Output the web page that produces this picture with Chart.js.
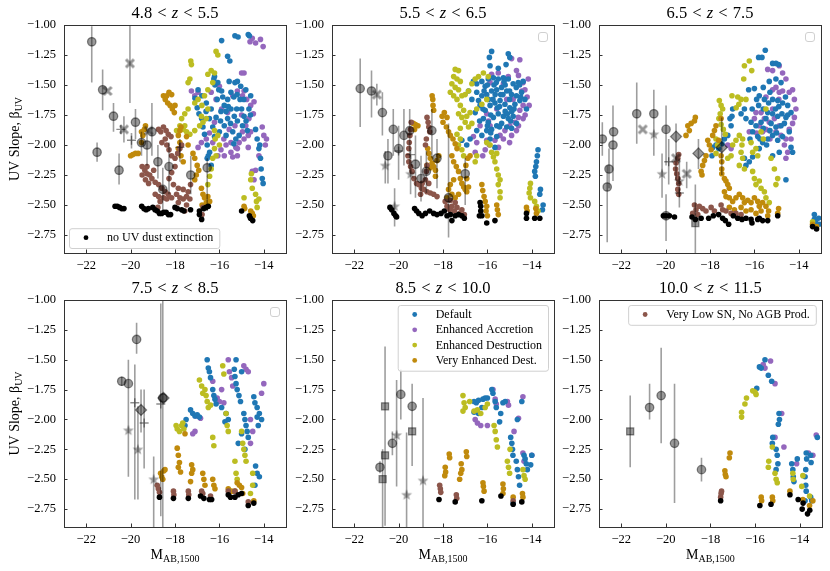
<!DOCTYPE html>
<html><head><meta charset="utf-8">
<script src="https://cdn.jsdelivr.net/npm/chart.js@4.4.1/dist/chart.umd.min.js"></script>
<style>
html,body{margin:0;padding:0;background:#fff;width:830px;height:571px;overflow:hidden;position:relative}
canvas{position:absolute}
</style></head><body>
<canvas id="c1" width="293" height="300" style="left:0px;top:0px;width:293px;height:300px"></canvas>
<canvas id="c2" width="293" height="300" style="left:268px;top:0px;width:293px;height:300px"></canvas>
<canvas id="c3" width="293" height="300" style="left:535px;top:0px;width:293px;height:300px"></canvas>
<canvas id="c4" width="293" height="298" style="left:0px;top:275px;width:293px;height:298px"></canvas>
<canvas id="c5" width="293" height="298" style="left:268px;top:275px;width:293px;height:298px"></canvas>
<canvas id="c6" width="293" height="298" style="left:535px;top:275px;width:293px;height:298px"></canvas>
<script>
// ---------- axes ----------
const xTicks = [-22, -20, -18, -16, -14];
const yTicks = [-1.00, -1.25, -1.50, -1.75, -2.00, -2.25, -2.50, -2.75];
const xRange = [-23, -13];
const yRange = [-2.9, -1.0];
const panelTitles = [["4.8", "5.5"], ["5.5", "6.5"], ["6.5", "7.5"], ["7.5", "8.5"], ["8.5", "10.0"], ["10.0", "11.5"]];
const seriesNames = ["Default", "Enhanced Accretion", "Enhanced Destruction", "Very Enhanced Dest.", "Very Low SN, No AGB Prod.", "no UV dust extinction"];
const seriesColors = ["#1f77b4", "#9467bd", "#bcbd22", "#c08a0c", "#8c564b", "#000000"];

// ---------- panel 1 : 4.8 < z < 5.5 ----------
const z1_default = [-15.9,-1.13, -15.63,-1.26, -15.53,-1.3, -15.3,-1.09, -15.16,-1.1, -14.7,-1.08, -14.65,-1.09, -16.22,-1.43, -16.2,-1.5,
 -17.1,-1.61, -17.0,-1.69, -16.92,-1.74, -16.8,-1.78, -16.74,-1.85, -16.67,-1.91, -16.55,-2.0, -16.5,-2.09, -16.37,-2.17, -16.44,-2.06,
 -16.25,-1.45, -16.07,-1.48, -16.03,-1.54, -15.85,-1.6, -15.78,-1.67, -15.63,-1.62, -15.48,-1.56, -15.3,-1.48, -15.19,-1.47, -15.04,-1.51, -14.81,-1.54, -14.59,-1.59,
 -15.48,-1.7, -15.33,-1.76, -15.19,-1.8, -14.96,-1.84, -14.74,-1.88, -15.63,-1.78, -15.78,-1.84, -16.0,-1.89, -16.22,-1.93, -16.15,-1.77, -16.37,-1.7, -16.59,-1.65, -16.79,-1.59, -16.96,-1.54,
 -15.4,-1.89, -15.26,-1.95, -15.11,-1.92, -14.89,-1.76, -14.67,-1.7, -15.7,-1.92, -15.93,-1.72, -15.56,-1.47, -15.07,-1.62, -15.22,-1.7,
 -15.9,-1.55, -15.7,-1.72, -15.0,-1.7, -14.9,-1.62, -15.5,-1.82, -16.1,-1.62, -15.35,-1.6, -14.8,-1.8, -16.3,-1.85, -16.45,-1.78,
 -15.2,-1.58, -15.6,-1.68, -15.95,-1.8, -16.6,-1.72, -14.6,-1.75, -15.35,-1.99,
 -14.37,-1.87, -14.3,-1.95, -14.22,-2.03, -14.15,-2.11, -14.12,-2.2, -14.07,-2.28, -14.03,-2.32, -14.18,-2.0, -16.55,-2.11];
const z1_accretion = [-14.62,-1.14, -14.52,-1.11, -14.37,-1.15, -14.15,-1.12, -14.03,-1.18, -14.89,-1.4, -15.0,-1.4,
 -17.26,-1.55, -17.11,-1.59, -16.96,-1.56, -16.37,-1.56, -16.15,-1.62, -15.9,-1.7, -15.63,-1.73, -15.4,-1.59, -15.19,-1.55, -14.96,-1.59, -14.77,-1.62, -14.59,-1.67, -14.47,-1.74,
 -14.67,-1.78, -14.81,-1.84, -14.96,-1.89, -15.11,-1.98, -15.26,-2.02, -15.48,-1.98, -15.7,-2.0, -15.93,-2.04, -16.07,-2.09, -16.3,-1.98, -16.59,-1.95, -16.81,-1.98, -16.96,-2.02,
 -15.78,-2.09, -15.48,-2.06, -15.19,-2.03, -14.89,-1.95, -14.59,-1.89, -15.3,-1.84, -15.56,-1.87, -16.22,-1.81, -16.0,-1.51, -14.7,-1.92, -14.89,-1.55, -14.44,-1.64, -15.19,-2.09,
 -15.0,-1.75, -15.8,-1.95, -16.45,-1.9, -14.7,-2.02, -15.4,-2.1,
 -14.07,-1.85, -14.0,-1.92, -13.93,-2.0, -13.88,-1.95, -14.22,-2.09, -14.37,-2.21, -14.44,-2.29, -14.52,-2.22];
const z1_destruction = [-17.29,-1.3, -17.26,-1.33, -17.33,-1.45, -17.41,-1.48, -16.15,-1.22, -16.07,-1.25, -16.52,-1.41, -16.37,-1.38, -16.22,-1.4, -16.3,-1.48, -16.52,-1.54, -16.67,-1.59, -16.79,-1.67,
 -16.96,-1.62, -17.11,-1.65, -17.41,-1.7, -17.56,-1.74, -17.7,-1.78, -17.78,-1.84, -17.63,-1.87, -17.48,-1.89, -17.33,-1.91, -17.11,-1.88, -16.89,-1.84, -16.74,-1.81, -16.59,-1.78, -17.56,-1.84, -17.93,-1.88,
 -16.22,-1.88, -16.19,-1.95, -16.22,-2.03, -16.3,-2.11, -16.37,-2.2, -16.44,-2.26, -16.52,-2.33, -16.07,-1.92, -16.0,-2.0, -16.15,-2.09,
 -14.56,-2.24, -14.59,-2.29, -14.52,-2.36, -14.37,-2.41, -14.33,-2.47, -14.3,-2.52, -14.22,-2.45, -14.89,-2.44, -16.81,-1.76, -16.52,-1.7];
const z1_veryDest = [-20.0,-2.09, -19.9,-2.08, -19.78,-2.07, -19.66,-2.07, -19.51,-1.89, -19.45,-1.92, -19.38,-1.87, -19.33,-1.84, -19.51,-1.98,
 -18.52,-1.59, -18.44,-1.62, -18.37,-1.59, -18.27,-1.56, -18.15,-1.58, -18.33,-1.65, -18.22,-1.67, -18.12,-1.7, -18.03,-1.73, -18.0,-1.67,
 -17.73,-1.85, -17.78,-1.88, -17.85,-1.92, -17.78,-1.98, -17.85,-2.03, -17.73,-2.09, -17.63,-2.14,
 -17.48,-1.93, -17.41,-2.0, -17.19,-2.07, -17.11,-2.11, -17.0,-2.17, -16.93,-2.21, -17.04,-2.25, -17.11,-2.29,
 -16.81,-2.36, -16.74,-2.41, -16.67,-2.44, -16.52,-2.43, -16.44,-2.47, -16.59,-2.48, -16.78,-2.5,
 -14.89,-2.51, -14.86,-2.53, -14.59,-2.55, -14.52,-2.57, -14.47,-2.59];
const z1_lowSN = [-18.74,-1.87, -18.64,-1.89, -18.52,-1.85, -18.4,-1.88, -18.3,-1.91, -18.18,-1.93, -18.44,-1.95, -18.59,-1.98, -18.37,-2.0, -18.27,-2.04, -18.15,-2.09, -18.0,-2.11, -17.88,-2.07, -17.78,-2.03, -17.7,-2.0,
 -19.48,-2.18, -19.36,-2.21, -19.26,-2.24, -19.14,-2.25, -19.04,-2.28, -19.33,-2.29, -19.19,-2.32, -19.48,-2.25, -19.26,-2.18, -18.96,-2.21, -18.89,-2.31, -18.74,-2.33, -18.59,-2.36, -18.44,-2.39, -18.3,-2.41,
 -18.52,-2.44, -18.67,-2.47, -18.37,-2.45, -18.15,-2.44, -17.93,-2.41, -17.78,-2.44, -17.63,-2.45, -17.48,-2.43, -17.33,-2.45, -17.41,-2.39, -17.63,-2.37, -17.85,-2.36, -18.07,-2.33, -18.27,-2.28, -18.15,-2.23, -18.0,-2.18,
 -17.3,-2.33, -18.89,-2.41, -18.74,-2.43, -17.85,-2.48, -17.48,-2.5, -18.77,-2.52, -17.56,-2.55, -16.74,-2.52, -16.78,-2.58];
const z1_noDust = [-20.7,-2.51, -20.6,-2.51, -20.5,-2.52, -20.4,-2.53, -20.3,-2.53, -19.5,-2.51, -19.4,-2.53, -19.3,-2.54, -19.2,-2.53, -19.0,-2.52, -18.9,-2.54, -18.8,-2.55,
 -18.7,-2.57, -18.6,-2.57, -18.5,-2.56, -18.4,-2.56, -18.3,-2.58, -18.2,-2.58, -18.0,-2.52, -17.9,-2.53, -17.7,-2.54, -17.6,-2.55, -17.3,-2.54,
 -16.9,-2.55, -16.9,-2.58, -16.8,-2.62, -16.7,-2.53, -16.6,-2.52, -16.5,-2.51, -15.0,-2.55, -14.65,-2.59, -14.6,-2.61, -14.5,-2.63];
// observations: x, y, err low, err high, marker
const z1_obs = [[-21.75,-1.14,-1.01,-1.48,'c'], [-21.51,-2.06,-1.98,-2.14,'c'], [-21.26,-1.54,-1.37,-1.71,'c'], [-21.04,-1.55,null,null,'x'],
 [-20.77,-1.76,-1.65,-1.89,'c'], [-20.52,-2.21,-2.07,-2.33,'c'], [-20.3,-1.87,-1.76,-1.98,'x'], [-20.44,-1.87,null,null,'p'], [-19.96,-1.96,-1.9,-2.03,'p'],
 [-20.03,-1.32,-1.0,-1.65,'x'], [-19.78,-1.81,-1.7,-1.95,'c'], [-19.51,-1.98,-1.89,-2.09,'c'], [-19.26,-2.0,-1.87,-2.17,'c'], [-19.19,-1.88,null,null,'x'],
 [-19.04,-1.89,-1.65,-2.09,'c'], [-18.77,-2.14,-2.0,-2.28,'c'], [-18.55,-2.37,-2.19,-2.55,'c'], [-18.27,-2.18,-1.98,-2.41,'c'], [-17.78,-2.02,-1.95,-2.14,'p'],
 [-17.29,-2.25,-2.09,-2.41,'c'], [-16.55,-2.19,-2.11,-2.55,'c']];

// ---------- panel 2 : 5.5 < z < 6.5 ----------
const z2_default = [-15.81,-1.22, -15.06,-1.24, -14.99,-1.27, -15.16,-1.33, -15.51,-1.36, -15.88,-1.34, -15.91,-1.27,
 -16.63,-1.47, -16.48,-1.49, -16.25,-1.47, -16.1,-1.51, -15.96,-1.45, -15.73,-1.44, -15.51,-1.45, -15.28,-1.44, -15.06,-1.45, -14.84,-1.49, -14.61,-1.48, -14.39,-1.47,
 -16.48,-1.56, -16.25,-1.59, -16.03,-1.58, -15.81,-1.55, -15.58,-1.54, -15.36,-1.52, -15.13,-1.55, -14.91,-1.58, -14.69,-1.59, -14.46,-1.56,
 -16.33,-1.67, -16.1,-1.71, -15.88,-1.67, -15.66,-1.65, -15.43,-1.63, -15.21,-1.66, -14.99,-1.69, -14.76,-1.66, -14.54,-1.63,
 -16.18,-1.78, -15.96,-1.81, -15.73,-1.77, -15.51,-1.74, -15.28,-1.76, -15.06,-1.78, -14.84,-1.76,
 -16.48,-1.88, -16.25,-1.92, -16.03,-1.88, -15.81,-1.87, -15.58,-1.84, -15.36,-1.82, -15.13,-1.85, -16.78,-1.95, -16.93,-2.0, -17.15,-1.96, -15.88,-1.95, -15.58,-1.93,
 -16.7,-1.62, -16.85,-1.55, -16.55,-1.73, -14.31,-1.62, -14.24,-1.7, -14.91,-1.86, -14.69,-1.82, -15.66,-2.02,
 -15.95,-1.62, -15.4,-1.58, -15.7,-1.5, -15.2,-1.5, -16.4,-1.63, -15.0,-1.62, -15.55,-1.69, -15.85,-1.75, -16.0,-1.84, -15.2,-1.72,
 -16.0,-1.5, -15.6,-1.48, -15.3,-1.58, -15.0,-1.55, -14.7,-1.52, -14.5,-1.6, -16.2,-1.7, -15.75,-1.62, -15.45,-1.68, -15.1,-1.74,
 -14.9,-1.72, -16.35,-1.8, -15.85,-1.9, -15.45,-1.85, -14.95,-1.8, -15.65,-1.58, -16.15,-1.55, -15.25,-1.47, -14.55,-1.5, -14.8,-1.7,
 -13.72,-2.04, -13.75,-2.09, -13.79,-2.14, -13.82,-2.18, -13.87,-2.22, -13.84,-2.26, -13.61,-2.37, -13.64,-2.41, -13.49,-2.5, -13.52,-2.54];
const z2_accretion = [-14.91,-1.28, -14.54,-1.29, -14.69,-1.38, -14.39,-1.48, -14.31,-1.54, -14.21,-1.6, -14.12,-1.67, -14.39,-1.67, -14.54,-1.71, -14.61,-1.77, -14.76,-1.81,
 -14.99,-1.84, -15.21,-1.88, -15.43,-1.92, -15.66,-1.96, -15.91,-2.0, -16.1,-2.04, -16.21,-2.09, -16.48,-1.98, -16.63,-1.93, -15.28,-1.49, -15.06,-1.43, -15.51,-1.4, -15.81,-1.41,
 -15.88,-1.48, -14.84,-1.62, -15.13,-1.62, -15.58,-1.7, -16.03,-1.74, -15.88,-1.84, -15.28,-1.95, -14.91,-1.92, -14.69,-1.88, -14.16,-1.45, -16.33,-1.84, -16.03,-1.96, -16.55,-2.06, -14.39,-1.78,
 -14.45,-1.55, -14.3,-1.75, -14.6,-1.84, -15.0,-1.98, -15.5,-2.02, -14.6,-1.42, -15.95,-1.8];
const z2_destruction = [-17.45,-1.37, -17.3,-1.38, -17.52,-1.43, -17.37,-1.45, -17.22,-1.47, -17.6,-1.49, -17.45,-1.52, -17.3,-1.54, -17.67,-1.56, -17.52,-1.59, -17.37,-1.62,
 -17.15,-1.59, -17.0,-1.58, -16.85,-1.55, -16.7,-1.49, -16.55,-1.45, -16.4,-1.43, -16.18,-1.4, -15.96,-1.43, -17.22,-1.67, -17.07,-1.71, -17.3,-1.74, -17.15,-1.77, -16.93,-1.76, -16.78,-1.73,
 -17.0,-1.81, -16.85,-1.85, -16.7,-1.82, -17.22,-1.86, -17.37,-1.91, -17.22,-1.95, -17.3,-2.0, -17.15,-2.04, -17.07,-2.09, -16.48,-1.7, -16.25,-1.66, -16.03,-1.62, -16.48,-2.09, -16.55,-2.14,
 -15.88,-2.0, -15.81,-2.06, -15.73,-2.1, -15.66,-2.14, -15.58,-2.2, -15.51,-2.25, -15.43,-2.29, -15.51,-2.33, -15.43,-2.39, -15.43,-2.44, -15.58,-2.07, -16.03,-1.98,
 -14.06,-2.32, -14.09,-2.36, -14.12,-2.4, -14.06,-2.44, -13.87,-2.47, -13.79,-2.51, -13.72,-2.55];
const z2_veryDest = [-19.34,-1.82, -19.24,-1.83, -19.13,-1.84, -19.28,-1.87, -18.49,-1.59, -18.46,-1.62, -18.45,-1.67, -18.42,-1.71, -18.04,-1.76, -17.94,-1.73, -17.82,-1.77, -18.0,-1.81,
 -17.85,-1.85, -17.75,-1.89, -17.67,-1.92, -17.55,-1.95, -17.45,-1.99, -17.37,-2.03, -17.6,-2.09, -17.52,-2.14, -17.4,-2.18, -17.3,-2.22, -17.22,-2.28, -17.15,-2.32, -17.07,-2.35, -17.0,-2.37,
 -16.93,-2.39, -16.85,-2.35, -16.93,-2.28, -16.97,-2.17, -16.88,-2.11, -16.78,-2.09, -17.52,-2.29, -17.67,-2.33, -17.75,-2.37, -17.6,-2.41, -17.45,-2.44, -17.3,-2.41, -17.82,-2.44,
 -18.69,-2.03, -18.64,-2.07, -18.57,-2.11, -18.49,-2.15, -18.42,-2.18, -18.34,-2.21, -18.57,-2.19, -18.72,-2.17, -18.34,-2.26, -18.27,-2.13, -18.19,-2.09,
 -16.25,-2.33, -16.21,-2.38, -16.15,-2.43, -16.1,-2.47, -16.03,-2.51, -16.06,-2.55, -16.0,-2.59, -15.58,-2.5, -15.55,-2.54, -15.51,-2.58, -14.24,-2.52, -14.21,-2.55, -13.82,-2.53, -13.79,-2.57];
const z2_lowSN = [-19.43,-1.81, -19.46,-1.87, -19.49,-1.92, -19.52,-1.98, -19.54,-2.03, -19.58,-2.09, -19.54,-2.14, -19.46,-2.18, -19.39,-2.22, -19.31,-2.28, -19.19,-2.32, -19.09,-2.33,
 -18.97,-2.36, -18.87,-2.37, -18.72,-2.39, -18.57,-2.4, -18.42,-2.41, -18.27,-2.43, -18.64,-2.32, -18.79,-2.29, -18.75,-2.22, -18.72,-2.17, -18.79,-2.0, -18.75,-1.95,
 -18.72,-1.77, -18.67,-1.81, -18.64,-1.85, -18.6,-1.89, -18.94,-2.32, -19.01,-2.41,
 -17.9,-2.47, -17.82,-2.51, -17.7,-2.54, -17.6,-2.51, -17.49,-2.55, -17.37,-2.52, -17.25,-2.57, -17.15,-2.54, -17.04,-2.58, -17.45,-2.48, -17.67,-2.46];
const z2_noDust = [-20.39,-2.52, -20.31,-2.54, -20.21,-2.57, -20.13,-2.59, -20.09,-2.6, -19.28,-2.53, -19.19,-2.55, -19.09,-2.57, -18.94,-2.59, -18.79,-2.57, -18.6,-2.55, -18.42,-2.57,
 -18.27,-2.58, -18.09,-2.57, -17.94,-2.55, -17.82,-2.59, -17.67,-2.58, -17.6,-2.63, -17.45,-2.59, -17.3,-2.58, -17.15,-2.59, -17.04,-2.61,
 -16.33,-2.48, -16.3,-2.51, -16.3,-2.55, -16.25,-2.59, -16.03,-2.65, -15.66,-2.63, -14.24,-2.57, -14.24,-2.61, -13.87,-2.61, -13.64,-2.61, -16.36,-2.59];
const z2_obs = [[-21.73,-1.53,-1.28,-1.85,'c'], [-21.22,-1.55,-1.38,-1.77,'c'], [-20.98,-1.58,-1.49,-1.67,'x'], [-20.73,-1.73,-1.56,-1.92,'c'],
 [-20.48,-2.09,-1.95,-2.32,'c'], [-20.6,-2.17,-2.05,-2.32,'s'], [-20.24,-1.87,-1.7,-2.09,'c'], [-20.0,-2.03,-1.84,-2.29,'c'], [-20.0,-2.05,null,null,'p'],
 [-19.76,-1.92,-1.7,-2.17,'c'], [-19.5,-1.88,-1.7,-2.22,'c'], [-19.46,-2.24,-2.08,-2.41,'s'], [-19.46,-2.08,null,null,'p'], [-19.24,-2.16,-1.92,-2.44,'c'],
 [-18.99,-2.28,-2.09,-2.47,'c'], [-18.75,-2.22,-2.05,-2.4,'c'], [-20.18,-2.51,-2.36,-2.68,'s'], [-18.5,-1.88,-1.7,-2.11,'c'], [-18.27,-2.11,-1.95,-2.36,'c'],
 [-17.75,-2.44,-1.82,-2.77,'c'], [-17.0,-2.24,-2.11,-2.5,'c']];

// ---------- panel 3 : 6.5 < z < 7.5 ----------
const z3_default = [-15.51,-1.21, -15.81,-1.27, -15.66,-1.27, -15.18,-1.32, -15.03,-1.32, -14.91,-1.33, -15.33,-1.47, -15.03,-1.45, -14.8,-1.48,
 -16.26,-1.54, -16.0,-1.53, -15.78,-1.59, -15.55,-1.62, -15.36,-1.65, -15.18,-1.62, -14.95,-1.63, -14.73,-1.65, -14.5,-1.67,
 -15.81,-1.67, -15.6,-1.7, -15.4,-1.73, -15.18,-1.74, -14.95,-1.76, -14.76,-1.74, -14.58,-1.77, -14.35,-1.73,
 -16.45,-1.7, -16.6,-1.74, -16.38,-1.78, -16.15,-1.81, -15.93,-1.84, -15.7,-1.81, -15.48,-1.78, -15.25,-1.82, -15.03,-1.85, -14.8,-1.84,
 -16.08,-1.89, -15.85,-1.93, -15.63,-1.98, -15.4,-1.95, -15.18,-1.92, -14.95,-1.96, -14.73,-1.93, -14.43,-1.89, -15.78,-2.03, -16.08,-2.1, -16.23,-2.14,
 -15.18,-2.09, -14.88,-2.06, -14.35,-2.02, -14.28,-2.06, -14.58,-2.29, -15.3,-1.88, -15.05,-1.7, -15.6,-1.86, -14.65,-1.82,
 -15.6,-1.52, -15.3,-1.56, -15.9,-1.62, -16.1,-1.7, -15.0,-1.9, -15.45,-2.0, -14.6,-1.6, -14.5,-1.75, -15.75,-1.95, -16.2,-1.95, -14.9,-1.68,
 -17.88,-2.02, -17.73,-2.0, -17.61,-2.03, -17.46,-1.99, -17.35,-1.95, -17.2,-1.92, -17.05,-1.84, -17.01,-1.76, -16.98,-1.7, -17.1,-1.78, -17.91,-2.09, -16.45,-2.11, -16.38,-2.17,
 -13.3,-2.58, -13.3,-2.62, -13.23,-2.65, -13.11,-2.61, -13.08,-2.66];
const z3_accretion = [-15.4,-1.37, -15.18,-1.38, -14.88,-1.34, -14.73,-1.4, -14.58,-1.45, -14.28,-1.54, -14.43,-1.56, -14.2,-1.62, -14.13,-1.7, -14.2,-1.77, -14.28,-1.82,
 -14.43,-1.87, -14.58,-1.95, -14.65,-2.0, -14.5,-2.06, -14.58,-2.11, -14.88,-1.84, -15.1,-1.78, -15.33,-1.81, -15.48,-1.87, -15.63,-1.89, -15.78,-1.84, -16.0,-1.78,
 -16.23,-1.89, -15.93,-1.73, -15.7,-1.73, -15.18,-1.7, -15.03,-1.52, -14.88,-1.56, -14.73,-1.55, -15.33,-1.88, -15.03,-1.89, -14.8,-1.92, -17.2,-2.0, -17.05,-2.03, -15.18,-1.54, -15.48,-1.6,
 -14.9,-1.62, -15.3,-1.95, -15.55,-1.78, -14.35,-1.95, -15.9,-1.9];
const z3_destruction = [-16.48,-1.45, -16.45,-1.34, -16.23,-1.3, -16.12,-1.38, -17.58,-1.63, -17.5,-1.67, -17.43,-1.7, -17.54,-1.74, -17.6,-1.78, -17.5,-1.83, -17.4,-1.87, -17.31,-1.91,
 -17.73,-1.95, -17.66,-2.0, -17.73,-2.07, -17.01,-1.59, -16.75,-1.6, -16.6,-1.62, -16.7,-1.66, -16.82,-1.69, -16.98,-2.0, -16.83,-1.96, -16.68,-1.92, -16.56,-2.0, -16.6,-2.06,
 -16.53,-2.11, -16.68,-2.17, -16.45,-2.2, -17.05,-2.09, -17.2,-2.11, -16.08,-2.22, -16.0,-2.28, -15.93,-2.33, -15.78,-2.3, -15.7,-2.36, -15.55,-2.39, -15.48,-2.44, -15.33,-2.48,
 -16.15,-1.98, -16.08,-2.06, -15.93,-2.03, -15.85,-2.09, -15.7,-1.89, -15.6,-1.95, -16.53,-1.95, -16.38,-1.62, -15.48,-1.7, -15.25,-2.11, -15.1,-2.2, -14.95,-2.28, -15.03,-2.33, -13.38,-2.64];
const z3_veryDest = [-19.0,-1.84, -18.85,-1.82, -18.7,-1.8, -18.66,-1.77, -18.93,-1.88, -19.08,-1.92, -18.1,-1.96, -18.03,-2.0, -17.95,-2.04, -18.18,-2.09, -18.25,-2.13, -18.33,-2.17,
 -18.4,-2.22, -18.36,-2.25, -17.88,-1.92, -17.8,-1.88, -17.73,-1.84, -17.5,-1.78, -17.47,-2.14, -17.47,-2.2, -17.47,-2.24, -17.35,-2.28, -17.28,-2.3, -17.2,-2.33, -17.13,-2.36,
 -17.35,-2.39, -17.28,-2.43, -17.13,-2.44, -16.98,-2.47, -16.83,-2.44, -16.68,-2.41, -16.53,-2.44, -16.45,-2.48, -16.3,-2.46, -16.15,-2.48, -16.0,-2.44, -15.85,-2.47, -15.78,-2.51,
 -15.63,-2.48, -15.48,-2.51, -15.36,-2.55, -15.4,-2.59, -17.13,-2.52, -16.9,-2.54, -16.6,-2.52, -16.38,-2.55, -16.15,-2.54, -15.93,-2.57, -15.7,-2.55, -14.95,-2.57, -14.91,-2.53,
 -17.61,-1.96, -17.5,-2.09, -13.38,-2.66, -13.2,-2.68];
const z3_lowSN = [-19.41,-2.08, -19.45,-2.11, -19.53,-2.15, -19.55,-2.2, -19.5,-2.24, -19.45,-2.28, -19.41,-2.32, -19.45,-2.37, -19.41,-2.41,
 -18.7,-2.5, -18.63,-2.54, -18.48,-2.51, -18.33,-2.53, -18.18,-2.55, -17.95,-2.52, -17.8,-2.55, -17.5,-2.5, -17.43,-2.54, -17.28,-2.55, -17.05,-2.57, -16.83,-2.57, -16.6,-2.58, -18.78,-2.57, -18.55,-2.58];
const z3_noDust = [-20.1,-2.59, -19.98,-2.59, -19.83,-2.59, -19.6,-2.6, -18.81,-2.6, -18.66,-2.62, -18.4,-2.61, -18.06,-2.61, -17.85,-2.59, -17.61,-2.58, -17.43,-2.61, -17.31,-2.63,
 -17.16,-2.66, -16.95,-2.59, -16.75,-2.61, -16.56,-2.62, -16.38,-2.61, -16.11,-2.65, -15.85,-2.62, -15.63,-2.63, -15.4,-2.63, -14.95,-2.59, -13.38,-2.68, -13.2,-2.7, -16.15,-2.62, -15.78,-2.61];
const z3_obs = [[-22.85,-1.95,-1.81,-2.09,'c'], [-22.55,-2.2,-2.03,-2.36,'c'], [-22.63,-2.35,-2.17,-2.81,'c'], [-22.37,-2.0,-1.67,-2.3,'c'], [-22.34,-1.89,null,null,'c'],
 [-21.3,-1.74,-1.48,-1.99,'c'], [-21.03,-1.87,null,null,'x'], [-20.53,-1.74,-1.54,-2.09,'c'], [-20.53,-1.91,null,null,'s'], [-19.98,-1.87,-1.67,-2.17,'c'],
 [-20.16,-2.24,-2.07,-2.44,'s'], [-19.86,-2.14,-1.95,-2.33,'p'], [-19.53,-1.93,null,null,'d'], [-19.53,-2.11,-1.82,-2.29,'x'], [-19.38,-2.3,-2.11,-2.52,'s'],
 [-19.38,-2.4,null,null,'p'], [-19.05,-2.24,-2.14,-2.36,'x'], [-18.52,-2.07,-1.95,-2.2,'d'], [-18.66,-2.65,-2.33,-2.9,'q'], [-17.47,-2.02,-1.77,-2.25,'d'],
 [-19.98,-2.59,-2.41,-2.8,'c']];

// ---------- panel 4 : 7.5 < z < 8.5 ----------
const z4_default = [-17.3,-1.92, -17.2,-1.95, -17.1,-1.97, -17.0,-1.96, -16.9,-1.98, -17.5,-2.0, -17.55,-2.05, -16.55,-1.5, -16.5,-1.57, -16.45,-1.6, -16.4,-1.65, -16.3,-1.75,
 -16.25,-1.8, -16.2,-1.83, -16.15,-1.87, -15.9,-1.9, -15.7,-1.95, -15.6,-2.0, -15.75,-2.02, -15.25,-1.5, -15.33,-1.58, -15.3,-1.64, -15.25,-1.7, -15.2,-1.75, -15.12,-1.8, -15.05,-1.85,
 -15.0,-1.6, -14.9,-1.95, -14.85,-2.0, -14.8,-2.05, -14.75,-2.1, -14.7,-2.15, -14.85,-2.25, -15.15,-2.2, -15.0,-2.12,
 -14.45,-1.81, -14.4,-1.86, -14.3,-1.9, -14.2,-1.95, -14.1,-2.0, -14.3,-1.98, -14.25,-2.05, -14.37,-2.39, -14.3,-2.45, -14.2,-2.48, -14.4,-2.55];
const z4_accretion = [-17.1,-2.1, -17.2,-2.12, -17.05,-1.97, -16.85,-1.99, -16.1,-1.82, -16.0,-1.85, -15.8,-1.86, -15.9,-1.75, -15.55,-1.6, -15.45,-1.65, -15.4,-1.72,
 -14.9,-1.55, -14.8,-1.58, -14.7,-1.6, -14.0,-1.7, -14.1,-1.78, -14.6,-2.0, -14.5,-2.1, -14.6,-2.2, -16.3,-1.68, -15.6,-1.5];
const z4_destruction = [-17.95,-2.05, -17.9,-2.08, -17.8,-2.1, -17.7,-2.05, -17.65,-2.03, -17.6,-2.08, -16.9,-1.67, -16.8,-1.72, -16.75,-1.78, -16.65,-1.75, -16.6,-1.8,
 -16.55,-1.85, -16.5,-1.9, -16.4,-1.88, -16.3,-2.15, -16.25,-2.22, -15.85,-1.55, -15.8,-1.62, -15.7,-1.95, -15.65,-2.05, -15.6,-2.1, -15.3,-2.35, -15.25,-2.45, -15.2,-2.5,
 -15.0,-2.1, -14.95,-2.2, -14.9,-2.25, -14.85,-2.3, -14.8,-2.35, -14.5,-2.45, -14.5,-2.55, -14.6,-2.62];
const z4_veryDest = [-18.65,-2.45, -18.6,-2.48, -18.55,-2.5, -18.5,-2.43, -18.45,-2.42, -17.9,-2.24, -17.85,-2.3, -17.8,-2.36, -17.85,-2.4, -17.75,-2.44, -17.55,-2.12,
 -17.25,-2.38, -17.2,-2.42, -17.25,-2.45, -17.3,-2.52, -16.75,-2.45, -16.7,-2.5, -16.65,-2.55, -16.3,-2.5, -16.25,-2.55, -16.2,-2.58,
 -15.6,-2.58, -15.45,-2.6, -15.3,-2.6, -15.2,-2.53, -15.1,-2.55, -15.0,-2.57, -14.95,-2.62, -14.45,-2.68];
const z4_lowSN = [-18.8,-2.55, -18.75,-2.58, -18.7,-2.61, -18.07,-2.6, -18.05,-2.63, -17.4,-2.6, -17.38,-2.63, -16.8,-2.6, -16.75,-2.62, -16.4,-2.64, -15.6,-2.6, -15.3,-2.6, -14.7,-2.69];
const z4_noDust = [-18.7,-2.65, -18.07,-2.66, -17.4,-2.66, -16.85,-2.64, -16.7,-2.66, -16.45,-2.67, -16.35,-2.67, -15.6,-2.63, -15.5,-2.65, -15.3,-2.65, -15.15,-2.63, -15.0,-2.62, -14.7,-2.72, -14.45,-2.7];
const z4_obs = [[-20.4,-1.68,-1.64,-1.72,'c'], [-20.1,-1.7,-1.5,-1.89,'c'], [-19.73,-1.33,-1.19,-1.45,'c'], [-19.53,-1.92,-1.75,-2.11,'d'],
 [-18.55,-1.82,-1.0,-2.9,'c'], [-20.1,-2.09,-1.5,-2.48,'s'], [-19.81,-1.86,-1.54,-2.67,'p'], [-19.67,-2.25,-1.89,-2.67,'s'], [-19.39,-2.03,-1.75,-2.41,'p'],
 [-18.96,-2.5,-2.31,-2.9,'s'], [-18.64,-1.87,-1.03,-2.81,'p'], [-18.52,-1.82,null,null,'d']];

// ---------- panel 5 : 8.5 < z < 10.0 ----------
const z5_default = [-16.6,-1.85, -16.5,-1.86, -16.4,-1.84, -16.2,-1.83, -16.1,-1.82, -16.0,-1.82, -15.8,-1.75, -15.75,-1.78, -16.4,-1.95, -16.6,-1.94, -16.25,-1.9, -15.65,-1.85, -15.6,-1.9,
 -15.3,-1.86, -15.2,-1.85, -15.4,-1.95, -15.45,-2.02, -14.45,-1.85, -14.65,-2.0, -14.95,-2.15, -14.9,-2.2, -14.87,-2.25, -14.85,-2.3, -14.7,-2.35, -14.65,-2.42, -14.6,-2.48, -14.55,-2.55,
 -14.35,-2.3, -14.3,-2.33, -14.25,-2.37, -14.2,-2.42, -14.0,-2.3, -14.05,-2.38, -14.84,-2.7];
const z5_accretion = [-16.55,-2.0, -16.45,-2.03, -16.3,-2.05, -16.0,-2.05, -15.75,-1.75, -15.65,-1.83, -15.6,-1.87, -15.1,-1.85, -15.05,-1.88, -14.6,-1.99, -14.4,-1.81, -14.8,-2.1, -14.4,-2.28, -14.35,-2.35, -14.0,-2.3];
const z5_destruction = [-17.1,-1.8, -17.05,-1.86, -17.0,-1.9, -17.1,-1.93, -16.8,-1.85, -16.45,-1.92, -16.3,-1.95, -16.1,-1.9, -16.0,-1.87, -16.6,-1.93,
 -15.7,-2.05, -15.65,-2.1, -15.6,-2.17, -15.55,-2.23, -15.1,-2.35, -15.05,-2.4, -15.0,-2.45, -14.98,-2.25, -14.4,-2.42, -14.35,-2.47, -14.3,-2.5];
const z5_veryDest = [-17.9,-2.4, -17.88,-2.44, -17.92,-2.47, -17.72,-2.29, -17.7,-2.32, -17.25,-2.5, -17.18,-2.37, -17.15,-2.42, -17.2,-2.45, -16.95,-2.27, -16.93,-2.31,
 -16.2,-2.53, -16.18,-2.56, -16.15,-2.6, -15.3,-2.54, -15.28,-2.58, -15.3,-2.62, -14.84,-2.65, -14.42,-2.62, -14.4,-2.65];
const z5_lowSN = [-18.15,-2.55, -18.12,-2.58, -18.1,-2.61, -17.4,-2.63, -17.38,-2.66, -14.84,-2.68];
const z5_noDust = [-18.18,-2.67, -17.45,-2.69, -16.25,-2.68, -15.39,-2.64, -14.84,-2.71, -14.45,-2.69];
const z5_obs = [[-20.84,-2.4,-2.35,-2.45,'c'], [-20.72,-2.5,-2.25,-2.9,'q'], [-20.61,-1.89,-1.79,-2.89,'q'], [-20.61,-2.3,-1.39,-2.81,'q'],
 [-20.28,-2.2,-2.1,-2.3,'c'], [-19.9,-1.79,-1.58,-2.0,'c'], [-20.09,-2.13,-1.67,-2.56,'s'], [-19.39,-1.89,-1.7,-2.39,'c'], [-19.39,-2.1,null,null,'q'],
 [-19.64,-2.63,-2.11,-2.9,'s'], [-18.9,-2.51,-1.82,-2.9,'s']];

// ---------- panel 6 : 10.0 < z < 11.5 ----------
const z6_default = [-15.8,-1.56, -15.72,-1.57, -15.55,-1.5, -15.4,-1.63, -15.25,-1.68, -15.92,-1.74, -14.92,-1.95, -14.9,-2.0, -14.95,-2.04, -15.2,-2.15, -15.22,-2.2,
 -15.05,-2.25, -15.0,-2.3, -14.97,-2.37, -15.05,-2.42, -14.35,-2.37, -14.3,-2.42, -14.28,-2.48, -14.25,-2.52, -14.1,-2.33,
 -13.7,-2.28, -13.68,-2.33, -13.72,-2.42, -13.75,-2.48, -13.72,-2.55, -13.7,-2.6, -13.75,-2.68, -13.5,-2.3, -13.48,-2.36, -13.5,-2.65, -13.45,-2.68, -13.2,-2.15];
const z6_accretion = [-15.63,-1.54, -15.55,-1.57, -15.3,-1.51, -15.1,-1.7, -14.8,-1.95, -15.1,-2.15, -14.7,-2.23, -14.13,-2.37, -13.6,-2.28, -13.4,-2.3, -13.25,-2.13];
const z6_destruction = [-16.6,-1.94, -16.6,-1.98, -16.45,-1.87, -16.38,-1.82, -16.1,-1.76, -16.0,-1.77, -15.95,-1.79, -15.38,-2.35, -15.4,-2.4, -15.22,-2.23,
 -15.1,-2.45, -15.05,-2.5, -15.0,-2.53, -14.3,-2.45, -14.28,-2.5, -13.9,-2.56, -13.85,-2.47, -13.55,-2.64];
const z6_veryDest = [-17.35,-2.43, -17.33,-2.46, -17.3,-2.48, -17.12,-2.28, -17.15,-2.32, -15.72,-2.65, -15.7,-2.68, -15.22,-2.65, -15.2,-2.68, -14.43,-2.6, -13.85,-2.67, -13.55,-2.72, -13.4,-2.68];
const z6_lowSN = [-17.5,-2.6, -17.52,-2.62, -17.54,-2.65];
const z6_noDust = [-17.54,-2.68, -15.78,-2.72, -15.28,-2.71, -14.43,-2.63, -14.06,-2.67, -13.88,-2.75, -13.84,-2.7, -13.64,-2.79, -13.54,-2.76];
const z6_obs = [[-21.6,-2.1,-1.8,-2.4,'q'], [-20.73,-1.9,-1.7,-2.0,'c'], [-20.21,-1.8,-1.4,-2.2,'c'], [-19.61,-2.2,-1.7,-2.7,'c'], [-18.4,-2.42,-2.32,-2.52,'c']];

// ---------- build ----------
const FONT = "'Liberation Serif', 'Times New Roman', serif";

function markerImg(kind) {
  const c = document.createElement('canvas');
  c.width = 14; c.height = 14;
  const g = c.getContext('2d');
  if (kind === 's') {
    g.fillStyle = 'rgba(0,0,0,0.38)';
    g.beginPath();
    for (let i = 0; i < 10; i++) {
      const r = i % 2 === 0 ? 5.8 : 2.4;
      const a = -Math.PI / 2 + i * Math.PI / 5;
      const px = 7 + r * Math.cos(a), py = 7.4 + r * Math.sin(a);
      if (i === 0) g.moveTo(px, py); else g.lineTo(px, py);
    }
    g.closePath(); g.fill();
  } else if (kind === 'x') {
    g.strokeStyle = 'rgba(0,0,0,0.42)';
    g.lineWidth = 3;
    g.beginPath();
    g.moveTo(3, 3); g.lineTo(11, 11); g.moveTo(11, 3); g.lineTo(3, 11);
    g.stroke();
  }
  return c;
}
const starImg = markerImg('s');
const xImg = markerImg('x');

function toPoints(flat) {
  const out = [];
  for (let i = 0; i < flat.length; i += 2) out.push({x: flat[i], y: flat[i + 1]});
  return out;
}

function obsDatasets(obs) {
  const ds = [];
  const err = [];
  obs.forEach(o => {
    if (o[2] !== null) { err.push({x: o[0], y: o[2]}, {x: o[0], y: o[3]}, {x: o[0], y: null}); }
  });
  ds.push({type: 'line', data: err, showLine: true, spanGaps: false, pointRadius: 0, borderColor: 'rgba(0,0,0,0.38)', borderWidth: 1.6, order: 1});
  const styles = {
    c: {pointStyle: 'circle', pointRadius: 4.2, backgroundColor: 'rgba(0,0,0,0.40)', borderColor: 'rgba(0,0,0,0.45)', borderWidth: 1.3},
    s: {pointStyle: starImg, pointRadius: 6},
    x: {pointStyle: xImg, pointRadius: 6},
    p: {pointStyle: 'cross', pointRadius: 4.5, borderColor: 'rgba(0,0,0,0.45)', borderWidth: 1.4, backgroundColor: 'rgba(0,0,0,0)'},
    d: {pointStyle: 'rectRot', pointRadius: 5.5, backgroundColor: 'rgba(0,0,0,0.40)', borderColor: 'rgba(0,0,0,0.45)', borderWidth: 1.3},
    q: {pointStyle: 'rect', pointRadius: 5, backgroundColor: 'rgba(0,0,0,0.40)', borderColor: 'rgba(0,0,0,0.45)', borderWidth: 1.2}
  };
  Object.keys(styles).forEach(k => {
    const pts = obs.filter(o => o[4] === k).map(o => ({x: o[0], y: o[1]}));
    if (pts.length) ds.push(Object.assign({data: pts, order: 0}, styles[k]));
  });
  return ds;
}

function simDataset(flat, colorIdx, order) {
  return {data: toPoints(flat), backgroundColor: seriesColors[colorIdx], borderWidth: 0, pointRadius: 2.8, pointStyle: 'circle', order: order};
}

function fmtMinus(s) { return s.replace('-', '\u2212'); }

function decorPlugin(p) {
  return {
    id: 'decor' + p.idx,
    afterDraw(chart) {
      const g = chart.ctx;
      const a = chart.chartArea;
      const xs = chart.scales.x, ys = chart.scales.y;
      g.save();
      // frame
      g.strokeStyle = '#333'; g.lineWidth = 1;
      g.strokeRect(Math.round(a.left) + 0.5, Math.round(a.top) + 0.5, Math.round(a.right - a.left), Math.round(a.bottom - a.top));
      // inward ticks
      g.beginPath();
      xTicks.forEach(v => { const px = Math.round(xs.getPixelForValue(v)) + 0.5; g.moveTo(px, a.bottom); g.lineTo(px, a.bottom - 3.5); });
      yTicks.forEach(v => { const py = Math.round(ys.getPixelForValue(v)) + 0.5; g.moveTo(a.left, py); g.lineTo(a.left + 3.5, py); });
      g.stroke();
      // title
      const t = panelTitles[p.idx];
      const parts = [[t[0], 'normal'], [' < ', 'normal'], ['z', 'italic'], [' < ', 'normal'], [t[1], 'normal']];
      g.fillStyle = '#000'; g.textBaseline = 'middle'; g.textAlign = 'left';
      let tw = 0;
      parts.forEach(pt => { g.font = pt[1] + ' 16.5px ' + FONT; tw += g.measureText(pt[0]).width + (pt[0] === ' < ' ? 2 : 0); });
      let tx = (a.left + a.right) / 2 - tw / 2;
      parts.forEach(pt => {
        g.font = pt[1] + ' 16.5px ' + FONT;
        const pad = pt[0] === ' < ' ? 1 : 0;
        g.fillText(pt[0], tx + pad, a.top - 11);
        tx += g.measureText(pt[0]).width + 2 * pad;
      });
      // y label
      if (p.ylabel) {
        g.save();
        g.translate(15, (a.top + a.bottom) / 2);
        g.rotate(-Math.PI / 2);
        g.font = '14px ' + FONT;
        const m1 = 'UV Slope, \u03B2';
        const w1 = g.measureText(m1).width;
        g.font = '10px ' + FONT;
        const w2 = g.measureText('UV').width;
        let sx = -(w1 + w2) / 2;
        g.font = '14px ' + FONT; g.fillText(m1, sx, 0);
        g.font = '10px ' + FONT; g.fillText('UV', sx + w1, 4);
        g.restore();
      }
      // x label
      if (p.xlabel) {
        g.font = '14px ' + FONT;
        const w1 = g.measureText('M').width;
        g.font = '10px ' + FONT;
        const w2 = g.measureText('AB,1500').width;
        let sx = (a.left + a.right) / 2 - (w1 + w2) / 2;
        g.font = '14px ' + FONT; g.fillText('M', sx, a.bottom + 28);
        g.font = '10px ' + FONT; g.fillText('AB,1500', sx + w1, a.bottom + 32);
      }
      // legends
      const legendBox = (x, y, w, h) => {
        g.beginPath();
        g.roundRect(x + 0.5, y + 0.5, w, h, 2.5);
        g.fillStyle = 'rgba(255,255,255,0.85)'; g.fill();
        g.strokeStyle = '#d0d0d0'; g.lineWidth = 1; g.stroke();
      };
      const entries = p.legend === 'main' ? [0, 1, 2, 3] : p.legend === 'lowsn' ? [4] : p.legend === 'nodust' ? [5] : [];
      if (p.legend === 'empty') {
        legendBox(a.right - 16, a.top + 7, 9, 9);
      } else if (entries.length) {
        g.font = '12px ' + FONT;
        let mw = 0;
        entries.forEach(i => { mw = Math.max(mw, g.measureText(seriesNames[i]).width); });
        const bw = 38 + mw + 6;
        const rowH = 15.3;
        const bh = entries.length * rowH + 4.5;
        let bx, by;
        if (p.legend === 'nodust') { bx = a.left + 5; by = a.bottom - 5 - bh; }
        else { bx = a.right - 6 - bw; by = a.top + 5; }
        legendBox(bx, by, bw, bh);
        entries.forEach((i, k) => {
          const cy = by + 9.5 + k * rowH;
          g.beginPath(); g.arc(bx + 17, cy, 2.4, 0, Math.PI * 2);
          g.fillStyle = seriesColors[i]; g.fill();
          g.fillStyle = '#000'; g.textBaseline = 'middle'; g.textAlign = 'left';
          g.font = '12px ' + FONT;
          g.fillText(seriesNames[i], bx + 38, cy + 0.5);
        });
      }
      g.restore();
    }
  };
}

const panels = [
  {idx: 0, id: 'c1', sims: [z1_default, z1_accretion, z1_destruction, z1_veryDest, z1_lowSN, z1_noDust], obs: z1_obs, legend: 'nodust', ylabel: true, xlabel: false, xh: 47},
  {idx: 1, id: 'c2', sims: [z2_default, z2_accretion, z2_destruction, z2_veryDest, z2_lowSN, z2_noDust], obs: z2_obs, legend: 'empty', ylabel: false, xlabel: false, xh: 47},
  {idx: 2, id: 'c3', sims: [z3_default, z3_accretion, z3_destruction, z3_veryDest, z3_lowSN, z3_noDust], obs: z3_obs, legend: 'empty', ylabel: false, xlabel: false, xh: 47},
  {idx: 3, id: 'c4', sims: [z4_default, z4_accretion, z4_destruction, z4_veryDest, z4_lowSN, z4_noDust], obs: z4_obs, legend: 'empty', ylabel: true, xlabel: true, xh: 46},
  {idx: 4, id: 'c5', sims: [z5_default, z5_accretion, z5_destruction, z5_veryDest, z5_lowSN, z5_noDust], obs: z5_obs, legend: 'main', ylabel: false, xlabel: true, xh: 46},
  {idx: 5, id: 'c6', sims: [z6_default, z6_accretion, z6_destruction, z6_veryDest, z6_lowSN, z6_noDust], obs: z6_obs, legend: 'lowsn', ylabel: false, xlabel: true, xh: 46}
];

// drawing order (higher = further below): purple, blue, yellow, orange, brown, black
const simOrder = [7, 8, 6, 5, 4, 3];

panels.forEach(p => {
  const datasets = [];
  p.sims.forEach((flat, i) => datasets.push(simDataset(flat, i, simOrder[i])));
  obsDatasets(p.obs).forEach(d => datasets.push(d));
  new Chart(document.getElementById(p.id), {
    type: 'scatter',
    data: {datasets},
    options: {
      responsive: false,
      animation: false,
      devicePixelRatio: 1,
      layout: {padding: {top: 25, right: 6, left: 0, bottom: 0}},
      plugins: {legend: {display: false}, tooltip: {enabled: false}, title: {display: false}},
      scales: {
        x: {
          type: 'linear', min: xRange[0], max: xRange[1],
          grid: {display: false, drawTicks: false}, border: {display: false},
          afterBuildTicks: s => { s.ticks = xTicks.map(v => ({value: v})); },
          afterFit: s => { s.height = p.xh; },
          ticks: {padding: 5, maxRotation: 0, autoSkip: false, color: '#000', font: {family: FONT, size: 12.5},
                  callback: v => fmtMinus(String(v))}
        },
        y: {
          type: 'linear', min: yRange[0], max: yRange[1],
          grid: {display: false, drawTicks: false}, border: {display: false},
          afterBuildTicks: s => { s.ticks = yTicks.map(v => ({value: v})); },
          afterFit: s => { s.width = 64; },
          ticks: {padding: 8, autoSkip: false, color: '#000', font: {family: FONT, size: 12.5},
                  callback: v => fmtMinus(Number(v).toFixed(2))}
        }
      }
    },
    plugins: [decorPlugin(p)]
  });
});
</script>
</body></html>
